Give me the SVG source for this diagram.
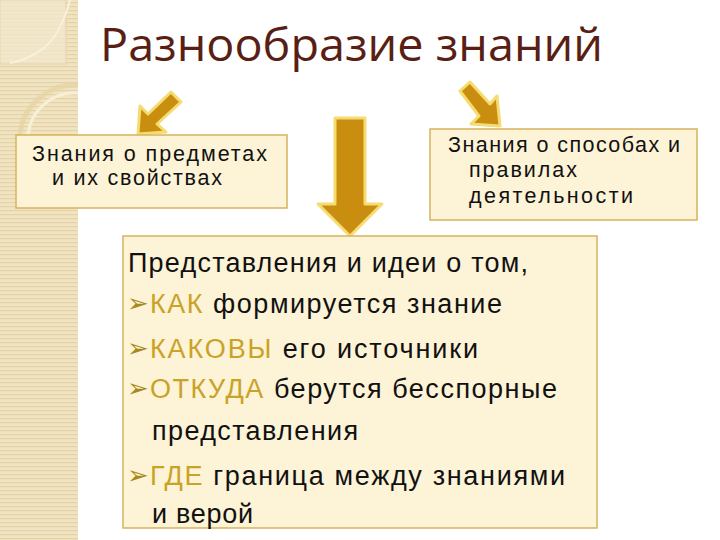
<svg xmlns="http://www.w3.org/2000/svg" width="720" height="540" viewBox="0 0 720 540">
  <defs>
    <pattern id="stripes" width="6" height="4" patternUnits="userSpaceOnUse">
      <rect width="6" height="4" fill="#f1e4c3"/>
      <rect y="2" width="6" height="1.2" fill="#e4d3a6"/>
    </pattern>
  </defs>
  <style>
    .box { fill: #fdf3d6; stroke: #d6b35c; stroke-width: 1.5; }
    .t { font-family: "Liberation Sans", Arial, sans-serif; fill: #111; }
    .s { font-size: 21.5px; }
    .b { font-size: 27px; }
    .hl { fill: #c9a227; }
    .bul { font-family: "DejaVu Sans", sans-serif; font-size: 26px; fill: #a8891c; }
    .arrow { fill: #c98e10; stroke: #f5db70; stroke-width: 3; stroke-linejoin: round; }
  </style>
  <rect width="720" height="540" fill="#ffffff"/>
  <!-- left decorative strip -->
  <g id="strip">
    <rect x="0" y="0" width="78" height="540" fill="url(#stripes)"/>
    <rect x="0" y="0" width="66" height="64" fill="#f3e8cc" stroke="#e2d1a6" stroke-width="1" opacity="0.8"/>
    <path d="M70,0 C62,30 50,55 10,63" fill="none" stroke="#f8f0dc" stroke-width="2"/>
    <path d="M20,135 A55,55 0 0 1 78,85" fill="none" stroke="#e6d3a3" stroke-width="5" opacity="0.7"/>
    <path d="M28,135 A47,47 0 0 1 78,93" fill="none" stroke="#f8efd8" stroke-width="3"/>
  </g>
  <g id="title">
    <text x="100" y="61" font-family="'Open Sans', 'Liberation Sans', sans-serif" font-size="45" textLength="503" lengthAdjust="spacingAndGlyphs" fill="#5a1f14">Разнообразие знаний</text>
  </g>
  <g id="connectors">
    <polygon class="arrow" points="171,92 181,102 157,124 166,132 138,134 140,106 148,114"/>
    <polygon class="arrow" points="460,91 470,82 490,104 497,96 500,126 471,124 479,116"/>
    <polygon class="arrow" points="335,118 365,118 365,204 382,204 350,236 318,204 335,204"/>
  </g>
  <g id="node-objects">
    <rect class="box" x="16" y="135" width="271" height="73"/>
    <text class="t s" x="32" y="161" textLength="235">Знания о предметах</text>
    <text class="t s" x="52" y="185" textLength="170">и их свойствах</text>
  </g>
  <g id="node-methods">
    <rect class="box" x="430" y="129" width="267" height="91"/>
    <text class="t s" x="448" y="152" textLength="232">Знания о способах и</text>
    <text class="t s" x="469" y="177" textLength="108">правилах</text>
    <text class="t s" x="469" y="203" textLength="164">деятельности</text>
  </g>
  <g id="node-ideas">
    <rect class="box" x="123" y="236" width="474" height="292"/>
    <text class="t b" x="128" y="272" textLength="400">Представления и идеи о том,</text>
    <text class="bul" x="127" y="312">➢</text>
    <text class="t b" x="150" y="313" textLength="352"><tspan class="hl">КАК</tspan> формируется знание</text>
    <text class="bul" x="127" y="357">➢</text>
    <text class="t b" x="150" y="358" textLength="328"><tspan class="hl">КАКОВЫ</tspan> его источники</text>
    <text class="bul" x="127" y="397">➢</text>
    <text class="t b" x="150" y="398" textLength="407"><tspan class="hl">ОТКУДА</tspan> берутся бесспорные</text>
    <text class="t b" x="152" y="440" textLength="206">представления</text>
    <text class="bul" x="127" y="484">➢</text>
    <text class="t b" x="150" y="485" textLength="415"><tspan class="hl">ГДЕ</tspan> граница между знаниями</text>
    <text class="t b" x="152" y="523" textLength="101">и верой</text>
  </g>
</svg>
